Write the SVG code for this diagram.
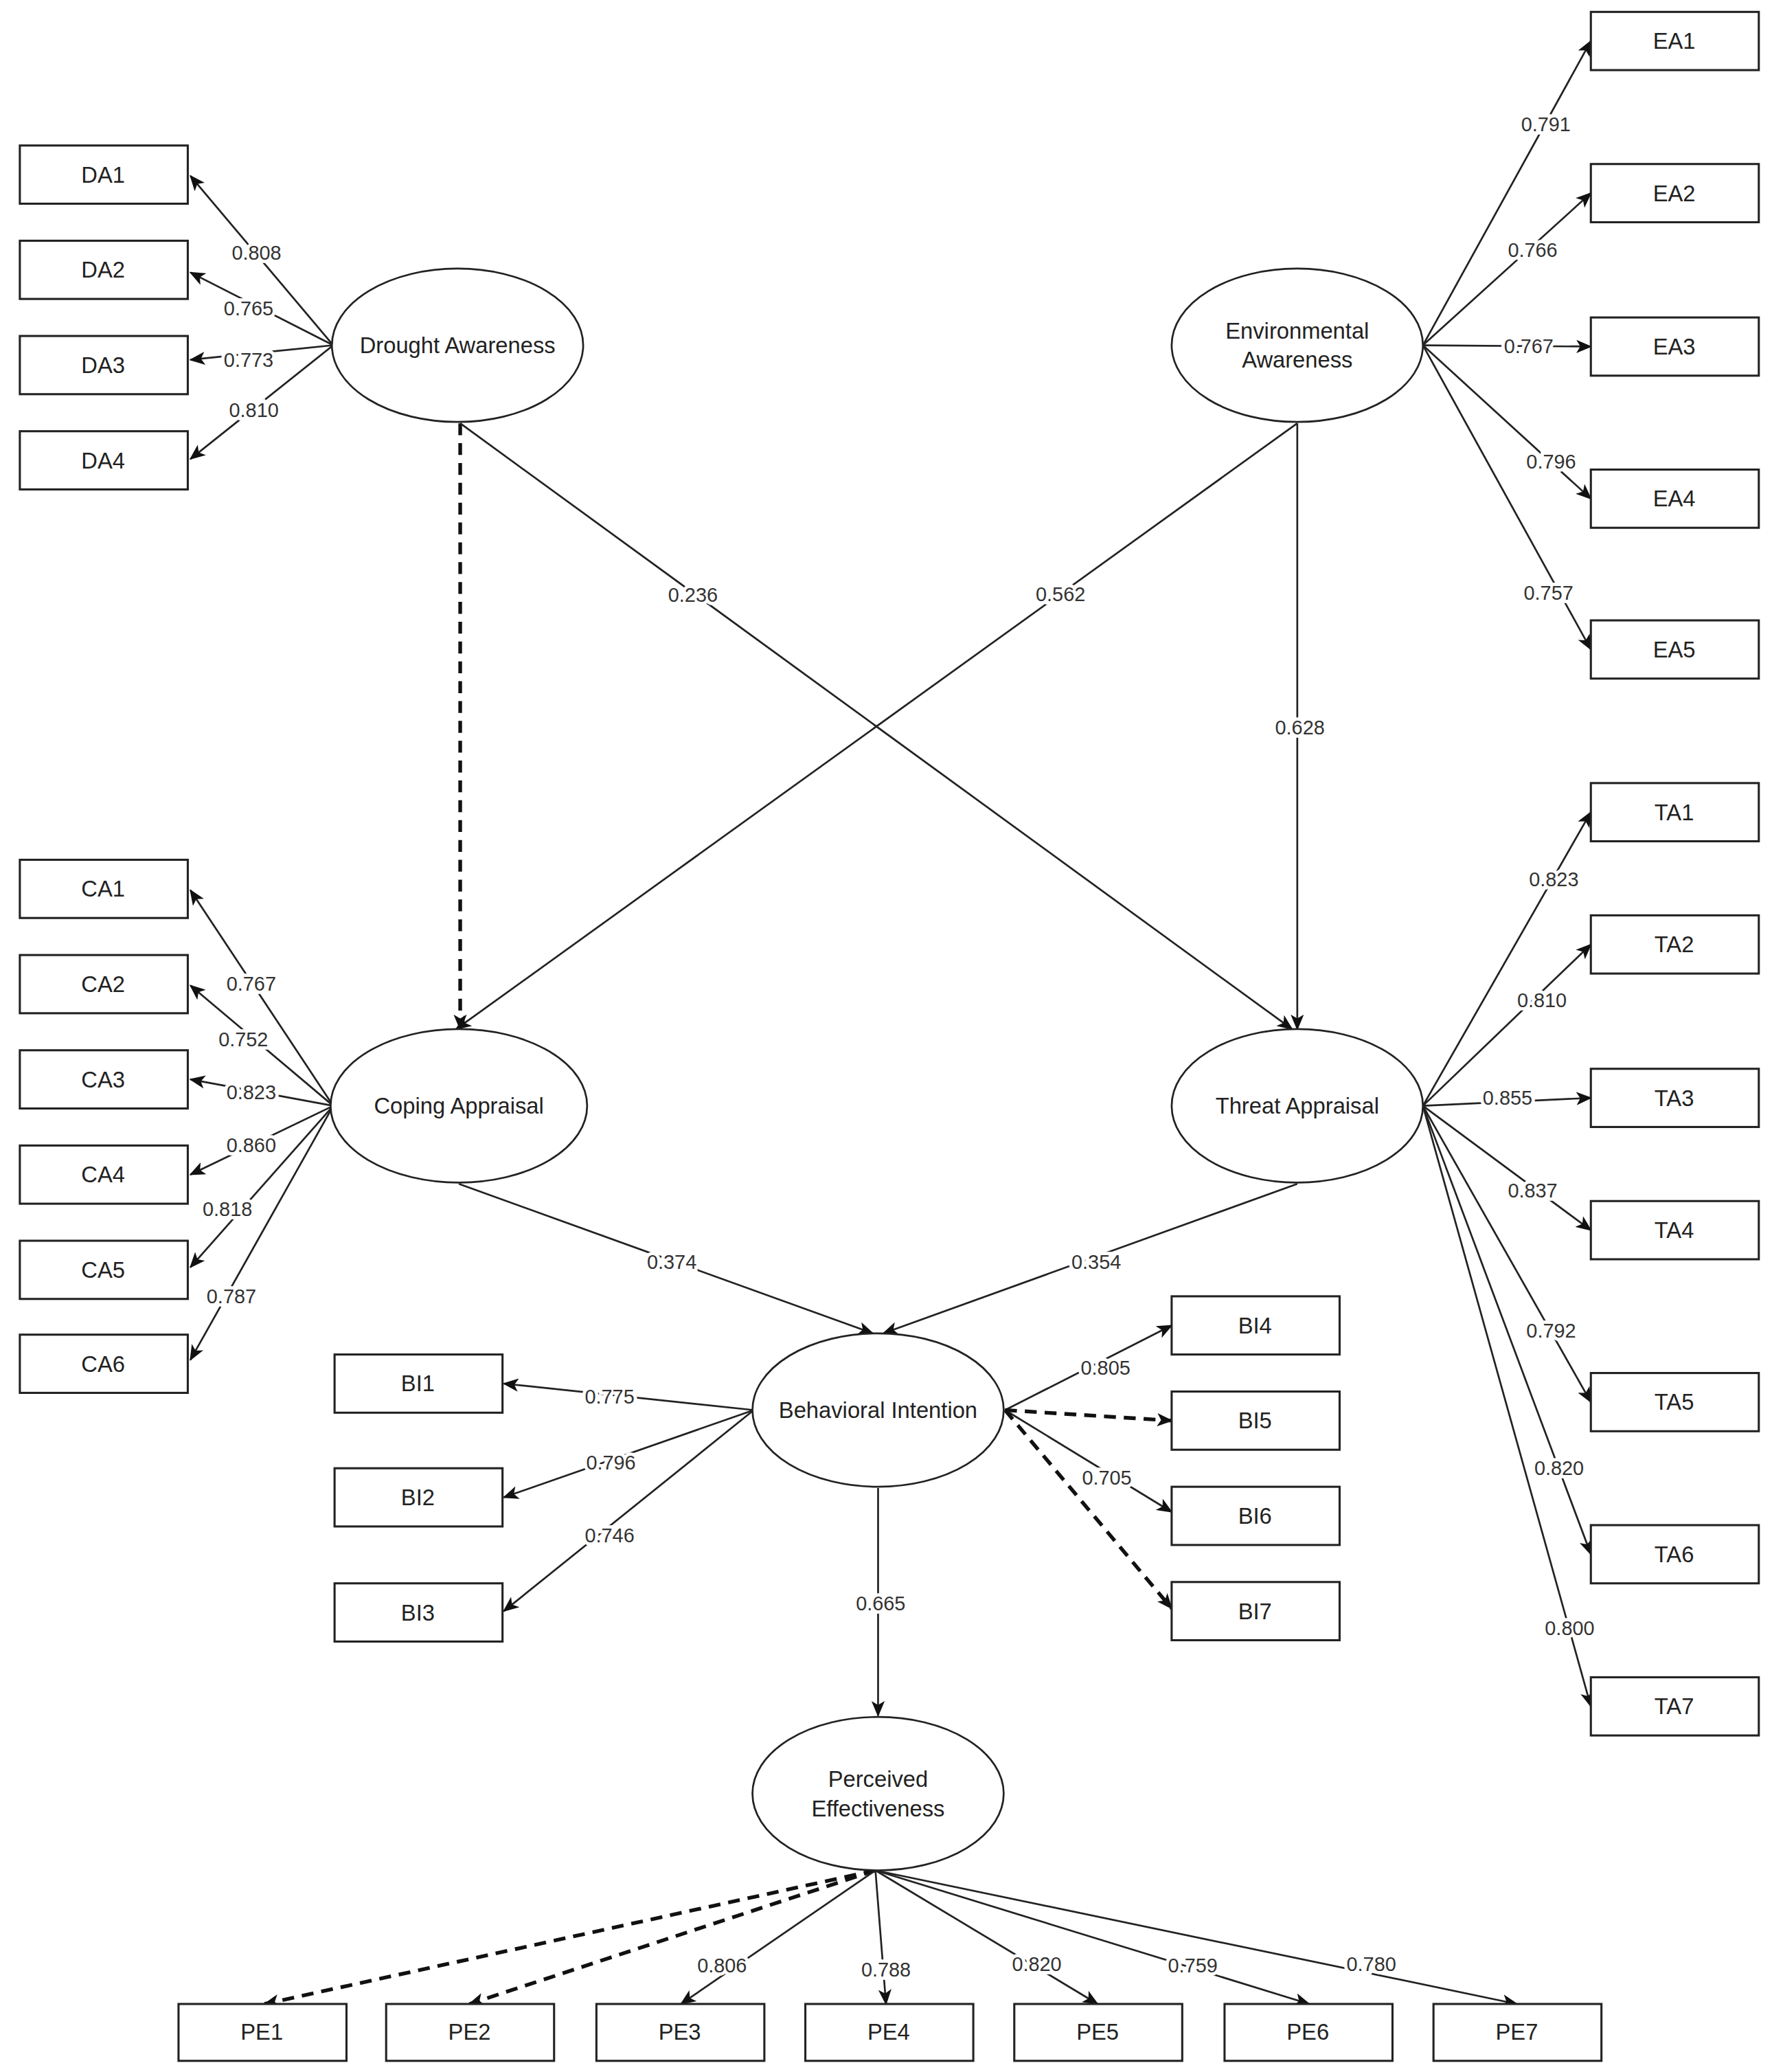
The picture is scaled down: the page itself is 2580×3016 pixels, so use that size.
<svg xmlns="http://www.w3.org/2000/svg" width="2580" height="3016" viewBox="0 0 2580 3016">
<style>
.b{fill:#fff;stroke:#222;stroke-width:1.6}
.e{fill:#fff;stroke:#222;stroke-width:1.4}
.t{font-family:"Liberation Sans",Arial,sans-serif;font-size:17px;fill:#222;text-anchor:middle;dominant-baseline:central}
.l{font-family:"Liberation Sans",Arial,sans-serif;font-size:15px;fill:#333;text-anchor:middle;dominant-baseline:central;stroke:#fff;stroke-width:5;paint-order:stroke}
.c{stroke:#222;stroke-width:1.4;fill:none;marker-end:url(#a)}
.d{stroke:#111;stroke-width:2.8;fill:none;stroke-dasharray:9 6;marker-end:url(#a)}
</style>
<defs><marker id="a" viewBox="0 0 12 10" refX="11" refY="5" markerWidth="12" markerHeight="10" markerUnits="userSpaceOnUse" orient="auto"><path d="M0,0 L12,5 L0,10 L3,5 z" fill="#111"/></marker></defs>
<rect width="2580" height="3016" fill="#fff"/>
<g transform="scale(1.9254)">
<g id="connectors">
<line class="c" x1="252" y1="261" x2="144" y2="133"/>
<line class="c" x1="252" y1="261" x2="144" y2="206"/>
<line class="c" x1="252" y1="261" x2="144" y2="272"/>
<line class="c" x1="252" y1="261" x2="144" y2="347"/>
<line class="d" x1="348" y1="320" x2="348" y2="778"/>
<line class="c" x1="348" y1="320" x2="977" y2="778"/>
<line class="c" x1="981" y1="320" x2="345" y2="778"/>
<line class="c" x1="981" y1="320" x2="981" y2="778"/>
<line class="c" x1="1076" y1="261" x2="1203" y2="31"/>
<line class="c" x1="1076" y1="261" x2="1203" y2="146"/>
<line class="c" x1="1076" y1="261" x2="1203" y2="262"/>
<line class="c" x1="1076" y1="261" x2="1203" y2="377"/>
<line class="c" x1="1076" y1="261" x2="1203" y2="491"/>
<line class="c" x1="252" y1="836" x2="144" y2="673"/>
<line class="c" x1="252" y1="836" x2="144" y2="745"/>
<line class="c" x1="252" y1="836" x2="144" y2="816"/>
<line class="c" x1="252" y1="836" x2="144" y2="888"/>
<line class="c" x1="252" y1="836" x2="144" y2="958"/>
<line class="c" x1="252" y1="836" x2="144" y2="1028"/>
<line class="c" x1="1076" y1="836" x2="1203" y2="614"/>
<line class="c" x1="1076" y1="836" x2="1203" y2="714"/>
<line class="c" x1="1076" y1="836" x2="1203" y2="830"/>
<line class="c" x1="1076" y1="836" x2="1203" y2="930"/>
<line class="c" x1="1076" y1="836" x2="1203" y2="1060"/>
<line class="c" x1="1076" y1="836" x2="1203" y2="1175"/>
<line class="c" x1="1076" y1="836" x2="1203" y2="1290"/>
<line class="c" x1="347" y1="895" x2="660" y2="1008"/>
<line class="c" x1="981" y1="895" x2="668" y2="1008"/>
<line class="c" x1="570" y1="1066" x2="381" y2="1046"/>
<line class="c" x1="570" y1="1066" x2="381" y2="1132"/>
<line class="c" x1="570" y1="1066" x2="381" y2="1218"/>
<line class="c" x1="760" y1="1066" x2="886" y2="1002"/>
<line class="d" x1="760" y1="1066" x2="886" y2="1074"/>
<line class="c" x1="760" y1="1066" x2="886" y2="1143"/>
<line class="d" x1="760" y1="1066" x2="886" y2="1216"/>
<line class="c" x1="664" y1="1125" x2="664" y2="1297"/>
<line class="d" x1="662" y1="1414" x2="200" y2="1515"/>
<line class="d" x1="662" y1="1414" x2="355" y2="1515"/>
<line class="c" x1="662" y1="1414" x2="515" y2="1515"/>
<line class="c" x1="662" y1="1414" x2="670" y2="1515"/>
<line class="c" x1="662" y1="1414" x2="830" y2="1515"/>
<line class="c" x1="662" y1="1414" x2="990" y2="1515"/>
<line class="c" x1="662" y1="1414" x2="1147" y2="1515"/>
<g>
<text class="l" x="194" y="191">0.808</text><text class="l" x="188" y="233">0.765</text><text class="l" x="188" y="272">0.773</text><text class="l" x="192" y="310">0.810</text>
<text class="l" x="524" y="450">0.236</text><text class="l" x="802" y="449">0.562</text><text class="l" x="983" y="550">0.628</text>
<text class="l" x="1169" y="94">0.791</text><text class="l" x="1159" y="189">0.766</text><text class="l" x="1156" y="262">0.767</text><text class="l" x="1173" y="349">0.796</text><text class="l" x="1171" y="448">0.757</text>
<text class="l" x="190" y="744">0.767</text><text class="l" x="184" y="786">0.752</text><text class="l" x="190" y="826">0.823</text><text class="l" x="190" y="866">0.860</text><text class="l" x="172" y="914">0.818</text><text class="l" x="175" y="980">0.787</text>
<text class="l" x="1175" y="665">0.823</text><text class="l" x="1166" y="756">0.810</text><text class="l" x="1140" y="830">0.855</text><text class="l" x="1159" y="900">0.837</text><text class="l" x="1173" y="1006">0.792</text><text class="l" x="1179" y="1110">0.820</text><text class="l" x="1187" y="1231">0.800</text>
<text class="l" x="508" y="954">0.374</text><text class="l" x="829" y="954">0.354</text>
<text class="l" x="461" y="1056">0.775</text><text class="l" x="462" y="1106">0.796</text><text class="l" x="461" y="1161">0.746</text><text class="l" x="836" y="1034">0.805</text><text class="l" x="837" y="1117">0.705</text><text class="l" x="666" y="1212">0.665</text>
<text class="l" x="546" y="1486">0.806</text><text class="l" x="670" y="1489">0.788</text><text class="l" x="784" y="1485">0.820</text><text class="l" x="902" y="1486">0.759</text><text class="l" x="1037" y="1485">0.780</text>
</g>
</g>
<g id="DA"><ellipse class="e" cx="346" cy="261" rx="95" ry="58"/><text class="t" x="346" y="261">Drought Awareness</text></g>
<g id="EA"><ellipse class="e" cx="981" cy="261" rx="95" ry="58"/><text class="t" x="981" y="250">Environmental</text><text class="t" x="981" y="272">Awareness</text></g>
<g id="CA"><ellipse class="e" cx="347" cy="836" rx="97" ry="58"/><text class="t" x="347" y="836">Coping Appraisal</text></g>
<g id="TA"><ellipse class="e" cx="981" cy="836" rx="95" ry="58"/><text class="t" x="981" y="836">Threat Appraisal</text></g>
<g id="BI"><ellipse class="e" cx="664" cy="1066" rx="95" ry="58"/><text class="t" x="664" y="1066">Behavioral Intention</text></g>
<g id="PE"><ellipse class="e" cx="664" cy="1356" rx="95" ry="58"/><text class="t" x="664" y="1345">Perceived</text><text class="t" x="664" y="1367">Effectiveness</text></g>
<g id="DA1"><rect class="b" x="15" y="110" width="127" height="44"/><text class="t" x="78" y="132">DA1</text></g>
<g id="DA2"><rect class="b" x="15" y="182" width="127" height="44"/><text class="t" x="78" y="204">DA2</text></g>
<g id="DA3"><rect class="b" x="15" y="254" width="127" height="44"/><text class="t" x="78" y="276">DA3</text></g>
<g id="DA4"><rect class="b" x="15" y="326" width="127" height="44"/><text class="t" x="78" y="348">DA4</text></g>
<g id="EA1"><rect class="b" x="1203" y="9" width="127" height="44"/><text class="t" x="1266" y="31">EA1</text></g>
<g id="EA2"><rect class="b" x="1203" y="124" width="127" height="44"/><text class="t" x="1266" y="146">EA2</text></g>
<g id="EA3"><rect class="b" x="1203" y="240" width="127" height="44"/><text class="t" x="1266" y="262">EA3</text></g>
<g id="EA4"><rect class="b" x="1203" y="355" width="127" height="44"/><text class="t" x="1266" y="377">EA4</text></g>
<g id="EA5"><rect class="b" x="1203" y="469" width="127" height="44"/><text class="t" x="1266" y="491">EA5</text></g>
<g id="CA1"><rect class="b" x="15" y="650" width="127" height="44"/><text class="t" x="78" y="672">CA1</text></g>
<g id="CA2"><rect class="b" x="15" y="722" width="127" height="44"/><text class="t" x="78" y="744">CA2</text></g>
<g id="CA3"><rect class="b" x="15" y="794" width="127" height="44"/><text class="t" x="78" y="816">CA3</text></g>
<g id="CA4"><rect class="b" x="15" y="866" width="127" height="44"/><text class="t" x="78" y="888">CA4</text></g>
<g id="CA5"><rect class="b" x="15" y="938" width="127" height="44"/><text class="t" x="78" y="960">CA5</text></g>
<g id="CA6"><rect class="b" x="15" y="1009" width="127" height="44"/><text class="t" x="78" y="1031">CA6</text></g>
<g id="TA1"><rect class="b" x="1203" y="592" width="127" height="44"/><text class="t" x="1266" y="614">TA1</text></g>
<g id="TA2"><rect class="b" x="1203" y="692" width="127" height="44"/><text class="t" x="1266" y="714">TA2</text></g>
<g id="TA3"><rect class="b" x="1203" y="808" width="127" height="44"/><text class="t" x="1266" y="830">TA3</text></g>
<g id="TA4"><rect class="b" x="1203" y="908" width="127" height="44"/><text class="t" x="1266" y="930">TA4</text></g>
<g id="TA5"><rect class="b" x="1203" y="1038" width="127" height="44"/><text class="t" x="1266" y="1060">TA5</text></g>
<g id="TA6"><rect class="b" x="1203" y="1153" width="127" height="44"/><text class="t" x="1266" y="1175">TA6</text></g>
<g id="TA7"><rect class="b" x="1203" y="1268" width="127" height="44"/><text class="t" x="1266" y="1290">TA7</text></g>
<g id="BI1"><rect class="b" x="253" y="1024" width="127" height="44"/><text class="t" x="316" y="1046">BI1</text></g>
<g id="BI2"><rect class="b" x="253" y="1110" width="127" height="44"/><text class="t" x="316" y="1132">BI2</text></g>
<g id="BI3"><rect class="b" x="253" y="1197" width="127" height="44"/><text class="t" x="316" y="1219">BI3</text></g>
<g id="BI4"><rect class="b" x="886" y="980" width="127" height="44"/><text class="t" x="949" y="1002">BI4</text></g>
<g id="BI5"><rect class="b" x="886" y="1052" width="127" height="44"/><text class="t" x="949" y="1074">BI5</text></g>
<g id="BI6"><rect class="b" x="886" y="1124" width="127" height="44"/><text class="t" x="949" y="1146">BI6</text></g>
<g id="BI7"><rect class="b" x="886" y="1196" width="127" height="44"/><text class="t" x="949" y="1218">BI7</text></g>
<g id="PE1"><rect class="b" x="135" y="1515" width="127" height="43"/><text class="t" x="198" y="1536">PE1</text></g>
<g id="PE2"><rect class="b" x="292" y="1515" width="127" height="43"/><text class="t" x="355" y="1536">PE2</text></g>
<g id="PE3"><rect class="b" x="451" y="1515" width="127" height="43"/><text class="t" x="514" y="1536">PE3</text></g>
<g id="PE4"><rect class="b" x="609" y="1515" width="127" height="43"/><text class="t" x="672" y="1536">PE4</text></g>
<g id="PE5"><rect class="b" x="767" y="1515" width="127" height="43"/><text class="t" x="830" y="1536">PE5</text></g>
<g id="PE6"><rect class="b" x="926" y="1515" width="127" height="43"/><text class="t" x="989" y="1536">PE6</text></g>
<g id="PE7"><rect class="b" x="1084" y="1515" width="127" height="43"/><text class="t" x="1147" y="1536">PE7</text></g>
</g>
</svg>
